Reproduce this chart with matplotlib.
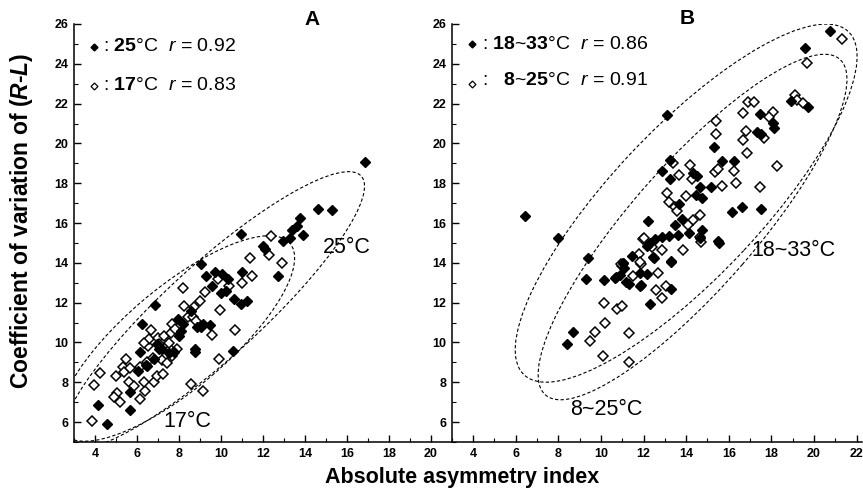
import matplotlib
matplotlib.use("Agg")
import matplotlib.pyplot as plt
from matplotlib.patches import Ellipse
from matplotlib.ticker import MultipleLocator

plt.rcParams['font.family'] = ['Liberation Sans', 'DejaVu Sans']
plt.rcParams['mathtext.fontset'] = 'custom'
plt.rcParams['mathtext.rm'] = 'Liberation Sans'
plt.rcParams['mathtext.it'] = 'Liberation Sans:italic'
plt.rcParams['mathtext.bf'] = 'Liberation Sans:bold'
if 'mathtext.bfit' in plt.rcParams:
    plt.rcParams['mathtext.bfit'] = 'Liberation Sans:italic:bold'
    RL = r'($\mathbfit{R}$-$\mathbfit{L}$)'
else:
    RL = r'($\mathit{R}$-$\mathit{L}$)'

# panel A, 25 C (filled)
a_hot_x = [4.55, 4.14, 5.69, 5.66, 6.16, 6.24, 6.05, 6.44, 6.87, 6.95, 7.06, 7.21, 7.53, 7.78,
           8.0, 8.08, 7.97, 8.2, 8.59, 8.87, 9.06, 9.14, 8.75, 8.78, 9.03, 9.3, 9.58, 9.49,
           9.69, 10.05, 10.0, 10.24, 10.35, 10.55, 10.6, 10.95, 11.23, 11.0, 12.02, 12.1,
           12.73, 12.97, 13.29, 13.37, 13.6, 13.76, 13.92, 14.6, 15.27, 16.86, 10.94, 6.81, 6.49]
a_hot_y = [5.9, 6.88, 7.53, 6.62, 9.53, 10.92, 8.55, 8.87, 11.88, 9.92, 9.67, 9.69, 9.45, 9.5,
           10.33, 10.58, 11.2, 10.92, 11.58, 10.77, 10.8, 10.92, 9.67, 9.5, 13.92, 13.33, 12.83, 10.9,
           13.55, 13.42, 12.5, 12.58, 13.2, 9.58, 12.17, 11.92, 12.08, 13.55, 14.84, 14.7,
           13.33, 15.09, 15.26, 15.67, 15.84, 16.26, 15.39, 16.73, 16.68, 19.05, 15.45, 9.16, 8.82]

# panel A, 17 C (open)
a_cool_x = [3.84, 3.94, 4.25, 5.02, 5.06, 4.9, 5.2, 5.33, 5.49, 5.38, 5.65, 5.61, 5.85, 6.12,
            6.12, 6.37, 6.35, 6.47, 6.5, 6.55, 6.68, 6.76, 6.79, 6.95, 7.02, 7.18, 7.26, 7.29,
            7.45, 7.57, 7.62, 7.65, 7.68, 7.89, 7.81, 8.23, 8.2, 8.44, 8.72, 8.67, 8.83, 8.98,
            8.59, 9.14, 9.22, 9.58, 9.85, 10.39, 9.97, 9.92, 10.68, 11.02, 11.46, 11.37, 12.28,
            12.9, 12.38, 7.05, 7.52, 6.33]
a_cool_y = [6.08, 7.87, 8.45, 8.33, 7.47, 7.25, 7.03, 8.75, 9.17, 8.5, 8.72, 8.03, 7.83, 8.78,
            7.17, 7.58, 8.03, 9.0, 9.8, 10.17, 10.63, 9.2, 8.0, 8.3, 10.23, 9.13, 8.42, 10.33,
            8.95, 9.67, 10.47, 10.95, 9.3, 9.67, 10.7, 11.83, 12.75, 11.3, 11.77, 11.3, 11.1, 12.08,
            7.92, 7.55, 12.53, 10.37, 13.17, 12.83, 11.62, 9.17, 10.63, 13.0, 13.33, 14.25, 14.38,
            14.0, 15.34, 9.91, 9.98, 9.99]

# panel B, 18~33 C (filled)
b_hot_x = [6.44, 8.0, 8.41, 8.69, 9.3, 9.38, 10.13, 10.67, 10.88, 11.1, 11.3, 11.06, 11.45,
           11.84, 11.84, 12.16, 12.31, 12.47, 13.3, 13.3, 12.16, 12.31, 12.55, 12.85, 13.2,
           14.64, 15.52, 13.08, 13.23, 12.89, 13.23, 14.3, 14.49, 14.64, 15.16, 15.3, 14.44,
           14.72, 13.66, 13.81, 13.47, 12.22, 14.72, 14.14, 20.74, 19.56, 18.94, 19.72, 17.45,
           18.08, 18.11, 17.33, 17.5, 15.7, 16.23, 17.49, 16.6, 16.17, 15.5, 10.73, 11.2, 11.9,
           11.05, 13.28, 12.45, 13.62]
b_hot_y = [16.35, 15.23, 9.92, 10.53, 13.17, 14.22, 13.12, 13.25, 13.37, 13.72, 12.95, 14.0, 14.33,
           13.5, 12.83, 13.42, 11.95, 14.25, 12.67, 14.05, 14.83, 15.0, 15.2, 15.3, 15.35,
           15.23, 15.0, 21.43, 19.17, 18.61, 18.21, 18.5, 18.36, 17.79, 17.79, 19.8, 17.41,
           17.27, 16.96, 16.19, 15.9, 16.1, 15.65, 15.48, 25.66, 24.78, 22.13, 21.81, 21.48,
           21.04, 20.76, 20.59, 20.47, 19.12, 19.12, 16.69, 16.79, 16.57, 15.11, 13.3, 13.05, 12.88,
           13.97, 14.11, 14.31, 15.4]

# panel B, 8~25 C (open)
b_cool_x = [9.5, 9.73, 10.2, 10.09, 10.13, 10.75, 10.98, 11.34, 11.34, 10.98, 11.5, 11.77, 11.88,
            12.7, 12.58, 12.86, 13.05, 12.86, 13.83, 14.69, 11.98, 12.42, 11.83, 10.92, 13.39,
            13.66, 14.2, 14.28, 15.34, 15.42, 15.42, 13.08, 13.98, 13.19, 13.47, 14.67, 14.3,
            14.09, 14.67, 12.02, 21.31, 19.67, 19.1, 19.2, 19.46, 16.9, 17.19, 16.67, 18.08,
            17.88, 16.83, 17.64, 16.67, 16.86, 15.5, 16.25, 16.36, 15.66, 17.45, 18.27, 13.55]
b_cool_y = [10.08, 10.55, 11.0, 9.33, 12.0, 11.67, 11.83, 10.5, 9.0, 13.83, 13.33, 14.42, 13.92,
            13.5, 12.62, 12.25, 12.83, 14.67, 14.67, 15.05, 15.18, 14.81, 14.02, 13.93, 19.03,
            18.41, 18.91, 18.21, 18.58, 21.14, 20.46, 17.49, 17.36, 17.07, 16.82, 16.4, 16.15,
            15.9, 15.28, 15.26, 25.23, 24.03, 22.43, 22.18, 22.01, 22.1, 22.07, 21.51, 21.6,
            21.31, 20.62, 20.29, 20.17, 19.5, 18.71, 18.63, 18.03, 17.86, 17.79, 18.86, 16.62]

# ellipses: centre x, centre y, width, height, angle
ellipses_a = [(9.64, 11.61, 19.5, 4.6, 44), (7.9, 10.2, 14.4, 5.0, 42)]
ellipses_b = [(14.0, 17.0, 23.0, 7.2, 49), (14.3, 15.8, 21.8, 6.0, 51)]

W, H = 863, 492
fig = plt.figure(figsize=(W / 100, H / 100), dpi=100)
axA = fig.add_axes([74 / W, 50 / H, 377 / W, 418 / H])
axB = fig.add_axes([451.7 / W, 50 / H, 410.3 / W, 418 / H])


def style(ax, xmax, xticks):
    ax.set_xlim(3, xmax)
    ax.set_ylim(5, 26)
    ax.spines['top'].set_visible(False)
    ax.spines['right'].set_visible(False)
    ax.spines['left'].set_linewidth(1.1)
    ax.spines['bottom'].set_linewidth(1.1)
    ax.set_xticks(xticks)
    ax.set_yticks(range(6, 27, 2))
    ax.xaxis.set_minor_locator(MultipleLocator(1))
    ax.yaxis.set_minor_locator(MultipleLocator(1))
    ax.tick_params(which='both', direction='in', labelsize=9, pad=4)
    ax.tick_params(which='major', length=5, width=1)
    ax.tick_params(which='minor', length=3, width=0.8)
    for lab in ax.get_xticklabels() + ax.get_yticklabels():
        lab.set_fontweight('bold')


style(axA, 20.95, range(4, 21, 2))
style(axB, 22.25, range(4, 23, 2))

for ax, hx, hy, cx, cy, ells in [(axA, a_hot_x, a_hot_y, a_cool_x, a_cool_y, ellipses_a),
                                 (axB, b_hot_x, b_hot_y, b_cool_x, b_cool_y, ellipses_b)]:
    for ex, ey, ew, eh, ang in ells:
        ax.add_patch(Ellipse((ex, ey), ew, eh, angle=ang, fill=False, ec='black',
                             ls=(0, (3, 2)), lw=0.8, zorder=1))
    ax.plot(cx, cy, 'D', ms=5, mfc='white', mec='black', mew=1.1, ls='none', zorder=2)
    ax.plot(hx, hy, 'D', ms=5, mfc='black', mec='black', ls='none', zorder=3)

# legend-like keys
fs = 14
axA.plot([0.054], [0.945], 'D', ms=3.5, color='black', transform=axA.transAxes, clip_on=False)
axA.plot([0.054], [0.852], 'D', ms=3.5, mfc='white', mec='black', mew=0.9,
         transform=axA.transAxes, clip_on=False)
axA.text(0.077, 0.945, r': $\mathbf{25}$°C  $\mathit{r}$ = 0.92', transform=axA.transAxes,
         fontsize=fs, va='center', ha='left')
axA.text(0.077, 0.852, r': $\mathbf{17}$°C  $\mathit{r}$ = 0.83', transform=axA.transAxes,
         fontsize=fs, va='center', ha='left')

axB.plot([0.049], [0.951], 'D', ms=3.5, color='black', transform=axB.transAxes, clip_on=False)
axB.plot([0.049], [0.857], 'D', ms=3.5, mfc='white', mec='black', mew=0.9,
         transform=axB.transAxes, clip_on=False)
axB.text(0.073, 0.952, r': $\mathbf{18}$~$\mathbf{33}$°C  $\mathit{r}$ = 0.86', transform=axB.transAxes,
         fontsize=fs, va='center', ha='left')
axB.text(0.073, 0.866, r':   $\mathbf{8}$~$\mathbf{25}$°C  $\mathit{r}$ = 0.91', transform=axB.transAxes,
         fontsize=fs, va='center', ha='left')

# ellipse labels
lfs = 15.5
axA.text(0.724, 0.466, '25°C', transform=axA.transAxes, fontsize=lfs, ha='center', va='center')
axA.text(0.30, 0.050, '17°C', transform=axA.transAxes, fontsize=lfs, ha='center', va='center')
axB.text(0.833, 0.457, '18~33°C', transform=axB.transAxes, fontsize=lfs, ha='center', va='center')
axB.text(0.376, 0.077, '8~25°C', transform=axB.transAxes, fontsize=lfs, ha='center', va='center')

# panel letters
axA.text(0.631, 1.01, 'A', transform=axA.transAxes, fontsize=15, fontweight='bold',
         ha='center', va='center')
axB.text(0.573, 1.014, 'B', transform=axB.transAxes, fontsize=15, fontweight='bold',
         ha='center', va='center')

fig.text(22 / W, 1 - 221 / H, 'Coefficient of variation of ' + RL, rotation=90,
         fontsize=16.5, fontweight='bold', ha='center', va='center')
fig.text(462 / W, 1 - 478 / H, 'Absolute asymmetry index', fontsize=15.5,
         fontweight='bold', ha='center', va='center')

fig.savefig('out.png', dpi=100)
